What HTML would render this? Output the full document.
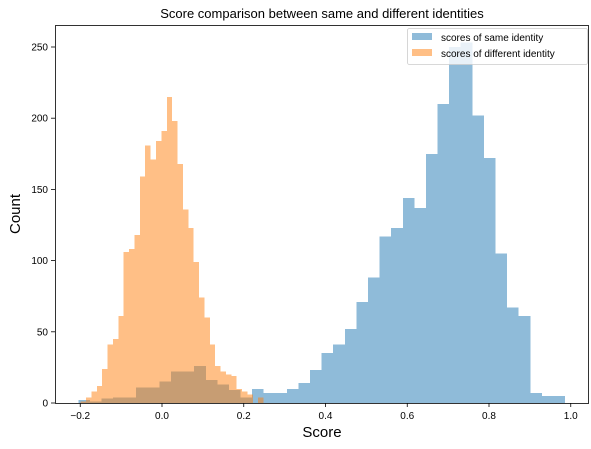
<!DOCTYPE html>
<html><head><meta charset="utf-8"><style>
body{margin:0;background:#fff}
svg{display:block;font-family:"Liberation Sans","DejaVu Sans",sans-serif}
</style></head><body>
<svg id="chart" width="591" height="449" viewBox="0 0 591 449">
<rect width="591" height="449" fill="#fff"/>
<text x="322" y="18" font-size="13" text-anchor="middle" fill="#000">Score comparison between same and different identities</text>
<g id="bars" shape-rendering="crispEdges"></g>
<rect x="55.5" y="25.5" width="533" height="378" fill="none" stroke="#000" stroke-width="0.8"/>
<g id="axes"></g>
<text x="322" y="437" font-size="15" text-anchor="middle">Score</text>
<text transform="translate(20,214) rotate(-90)" font-size="15" text-anchor="middle">Count</text>
<g>
<rect x="407.5" y="28.5" width="180" height="36" rx="2" fill="#fff" fill-opacity="0.8" stroke="#ccc" stroke-width="0.8"/>
<rect x="412" y="33" width="20" height="7" fill="#1f77b4" fill-opacity="0.5"/>
<text x="441" y="41" font-size="10">scores of same identity</text>
<rect x="412" y="49" width="20" height="7" fill="#ff7f0e" fill-opacity="0.5"/>
<text x="441" y="57" font-size="10">scores of different identity</text>
</g>
</svg>
<script>
const sameMin = -0.2048, sameMax = 0.986;
const sameCounts = [2,1,3,4,4,11,11,15,22,22,26,16,13,9,4,10,7,7,10,14,23,35,41,52,71,88,117,123,144,137,175,210,250,253,202,172,105,67,61,7,5,5];
const diffMin = -0.199, diffMax = 0.2486;
const diffCounts = [1,4,8,12,24,41,45,61,106,108,118,159,181,171,184,191,215,198,168,136,123,99,74,60,41,26,22,20,19,10,8,6,0,4];
const xTicks = [-0.2,0.0,0.2,0.4,0.6,0.8,1.0];
const xTickLabels = ["−0.2","0.0","0.2","0.4","0.6","0.8","1.0"];
const yTicks = [0,50,100,150,200,250];

const NS = "http://www.w3.org/2000/svg";
function xs(v){return 162 + v*408.75;}
function ys(c){return 403 - c*1.424;}
const bars = document.getElementById('bars');
function drawHist(counts, lo, hi, color, name){
  const w = (hi-lo)/counts.length;
  counts.forEach((c,i)=>{
    if(c<=0) return;
    const r = document.createElementNS(NS,'rect');
    const x0 = xs(lo+i*w), x1 = xs(lo+(i+1)*w);
    r.setAttribute('x', x0); r.setAttribute('width', x1-x0);
    r.setAttribute('y', ys(c)); r.setAttribute('height', ys(0)-ys(c));
    r.setAttribute('fill', color); r.setAttribute('fill-opacity','0.5');
    
    
    bars.appendChild(r);
  });
}
drawHist(sameCounts, sameMin, sameMax, '#1f77b4', 'same');
drawHist(diffCounts, diffMin, diffMax, '#ff7f0e', 'different');

const axes = document.getElementById('axes');
xTicks.forEach((t,i)=>{
  const x = xs(t);
  const l = document.createElementNS(NS,'line');
  l.setAttribute('x1',x);l.setAttribute('x2',x);l.setAttribute('y1',403);l.setAttribute('y2',407);
  l.setAttribute('stroke','#000');l.setAttribute('stroke-width','0.8');
  
  
  axes.appendChild(l);
  const tx = document.createElementNS(NS,'text');
  tx.setAttribute('x',x);tx.setAttribute('y',419);tx.setAttribute('font-size','10');tx.setAttribute('text-anchor','middle');
  tx.textContent = xTickLabels[i];
  
  
  axes.appendChild(tx);
});
yTicks.forEach(t=>{
  const y = ys(t);
  const l = document.createElementNS(NS,'line');
  l.setAttribute('x1',51);l.setAttribute('x2',55);l.setAttribute('y1',y);l.setAttribute('y2',y);
  l.setAttribute('stroke','#000');l.setAttribute('stroke-width','0.8');
  
  
  axes.appendChild(l);
  const tx = document.createElementNS(NS,'text');
  tx.setAttribute('x',48);tx.setAttribute('y',y+3.5);tx.setAttribute('font-size','10');tx.setAttribute('text-anchor','end');
  tx.textContent = t;
  
  
  axes.appendChild(tx);
});
</script>
</body></html>
